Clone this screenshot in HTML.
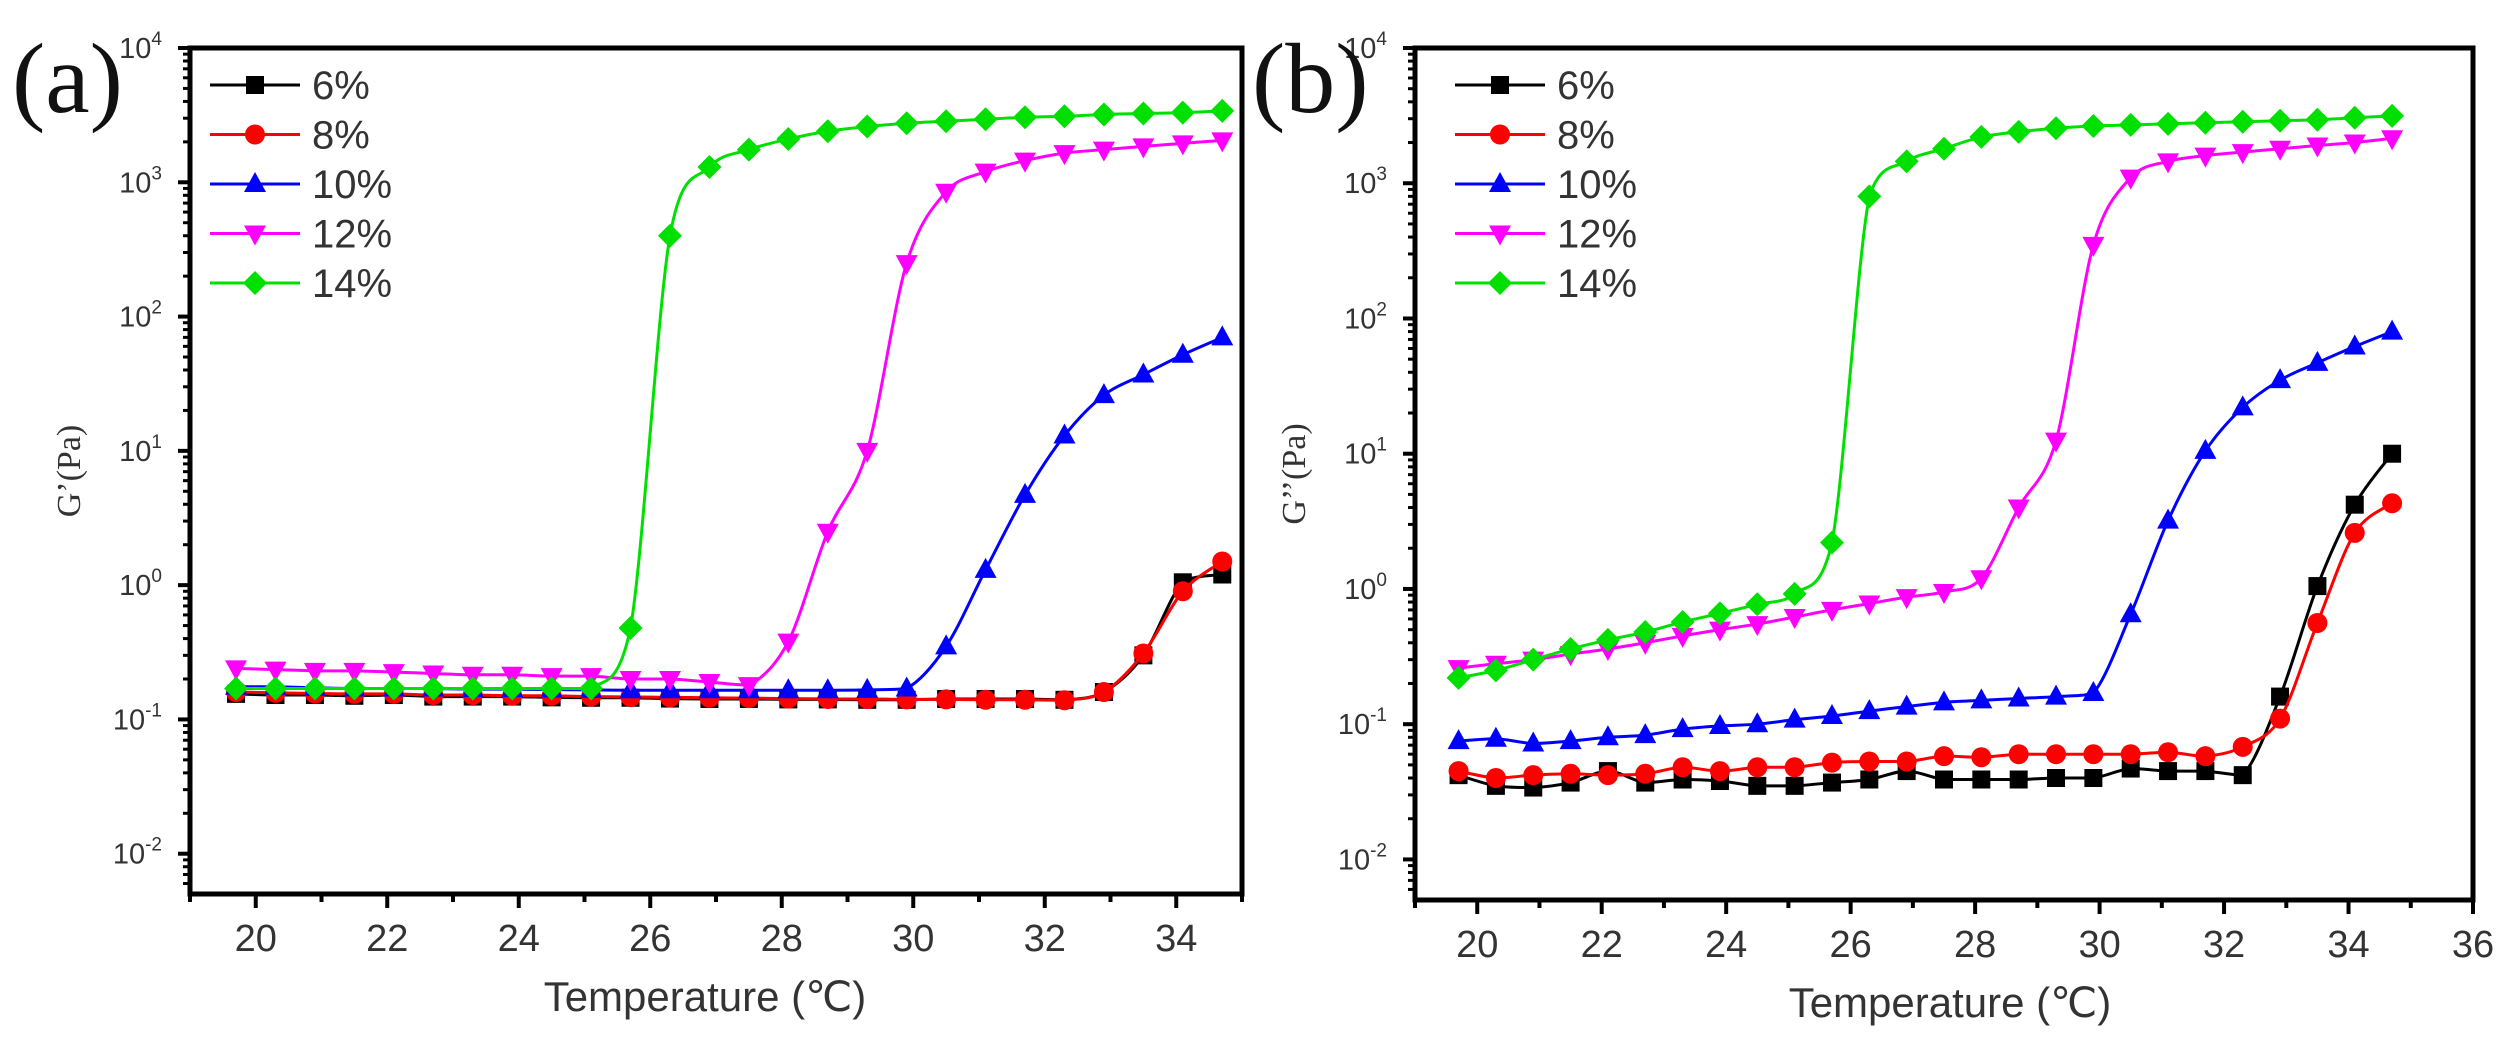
<!DOCTYPE html>
<html><head><meta charset="utf-8">
<style>
html,body{margin:0;padding:0;background:#fff;}
svg{display:block;}
</style></head>
<body>
<svg id="fig" width="2512" height="1053" viewBox="0 0 2512 1053" xmlns="http://www.w3.org/2000/svg"></svg>
<script>
// ---- data ----
const temps = [19.7,20.3,20.9,21.5,22.1,22.7,23.3,23.9,24.5,25.1,25.7,26.3,26.9,27.5,28.1,28.7,29.3,29.9,30.5,31.1,31.7,32.3,32.9,33.5,34.1,34.7];
const seriesNames = ['6%','8%','10%','12%','14%'];
const a6  = [0.155,0.152,0.152,0.15,0.152,0.148,0.148,0.148,0.146,0.145,0.145,0.143,0.142,0.142,0.141,0.141,0.14,0.14,0.142,0.142,0.142,0.14,0.16,0.3,1.05,1.2];
const a8  = [0.16,0.158,0.156,0.155,0.155,0.152,0.152,0.15,0.15,0.148,0.147,0.146,0.145,0.144,0.143,0.142,0.142,0.141,0.141,0.14,0.14,0.139,0.16,0.31,0.9,1.5];
const a10 = [0.175,0.175,0.172,0.17,0.17,0.17,0.168,0.168,0.167,0.166,0.165,0.165,0.165,0.165,0.165,0.165,0.166,0.17,0.35,1.3,4.7,13,26,37,52,70];
const a12 = [0.24,0.235,0.23,0.23,0.225,0.22,0.215,0.215,0.21,0.21,0.2,0.2,0.19,0.18,0.38,2.5,10,250,850,1200,1450,1650,1750,1850,1950,2050];
const a14 = [0.17,0.17,0.17,0.17,0.17,0.17,0.17,0.17,0.17,0.17,0.48,400,1300,1750,2100,2400,2600,2750,2850,2950,3050,3100,3200,3250,3300,3400];
const b6  = [0.042,0.035,0.034,0.037,0.045,0.037,0.039,0.038,0.035,0.035,0.037,0.039,0.045,0.039,0.039,0.039,0.04,0.04,0.047,0.045,0.045,0.042,0.16,1.05,4.2,10];
const b8  = [0.045,0.04,0.042,0.043,0.042,0.043,0.048,0.045,0.048,0.048,0.052,0.053,0.053,0.058,0.057,0.06,0.06,0.06,0.06,0.062,0.058,0.068,0.11,0.56,2.6,4.3];
const b10 = [0.075,0.078,0.072,0.075,0.08,0.083,0.092,0.097,0.1,0.108,0.115,0.125,0.135,0.145,0.15,0.155,0.16,0.17,0.65,3.2,10.5,22,35,47,62,80];
const b12 = [0.26,0.28,0.3,0.33,0.36,0.4,0.45,0.5,0.55,0.62,0.7,0.78,0.87,0.95,1.2,4,12.5,350,1100,1450,1600,1700,1800,1900,2000,2150];
const b14 = [0.22,0.25,0.3,0.36,0.42,0.48,0.57,0.66,0.77,0.92,2.2,800,1450,1800,2200,2400,2550,2650,2700,2750,2800,2850,2900,2950,3050,3150];
const xTicksA = [20,22,24,26,28,30,32,34];
const xTicksB = [20,22,24,26,28,30,32,34,36];
const yExps = [-2,-1,0,1,2,3,4];

const colors = ['#000000','#ff0000','#0000ff','#ff00ff','#00e000'];
const markers = ['square','circle','triUp','triDown','diamond'];
const NS = 'http://www.w3.org/2000/svg';
const svg = document.getElementById('fig');
function mk(tag, attrs, parent){const e=document.createElementNS(NS,tag);for(const k in attrs)e.setAttribute(k,attrs[k]);(parent||svg).appendChild(e);return e;}

function marker(g, type, x, y, c){
  let e; const s=10;
  if(type==='square') e=mk('rect',{x:x-s+1,y:y-s+1,width:2*s-2,height:2*s-2,fill:c},g);
  else if(type==='circle') e=mk('circle',{cx:x,cy:y,r:s,fill:c},g);
  else if(type==='triUp') e=mk('polygon',{points:`${x},${y-s-2} ${x+s+1},${y+s-2} ${x-s-1},${y+s-2}`,fill:c},g);
  else if(type==='triDown') e=mk('polygon',{points:`${x},${y+s+2} ${x+s+1},${y-s+2} ${x-s-1},${y-s+2}`,fill:c},g);
  else e=mk('polygon',{points:`${x},${y-s-2} ${x+s+2},${y} ${x},${y+s+2} ${x-s-2},${y}`,fill:c},g);
  return e;
}
function smoothPath(pts){
  let d=`M${pts[0][0]},${pts[0][1]}`;
  for(let i=0;i<pts.length-1;i++){
    const p0=pts[Math.max(0,i-1)],p1=pts[i],p2=pts[i+1],p3=pts[Math.min(pts.length-1,i+2)];
    const t=0.16;
    let c1y=p1[1]+(p2[1]-p0[1])*t, c2y=p2[1]-(p3[1]-p1[1])*t;
    const lo=Math.min(p1[1],p2[1]), hi=Math.max(p1[1],p2[1]);
    c1y=Math.max(lo,Math.min(hi,c1y)); c2y=Math.max(lo,Math.min(hi,c2y));
    d+=` C${p1[0]+(p2[0]-p0[0])*t},${c1y} ${p2[0]-(p3[0]-p1[0])*t},${c2y} ${p2[0]},${p2[1]}`;
  }
  return d;
}

function panel(cfg){
  const {L,R,T,B,xmin,xmax,name,ylab,series,xTicks,letter,letterX,ylabX,xlabX,legX} = cfg;
  const g = mk('g',{});
  
  
  const ymin=-3, ymax=4; // log10 range: bottom ~ 10^-2.3
  const yBotExp = cfg.yBotExp;
  const xs = v => L + (v-xmin)/(xmax-xmin)*(R-L);
  const ys = v => T + (4-Math.log10(v))/(4-yBotExp)*(B-T);
  // frame
  const fr = mk('rect',{x:L,y:T,width:R-L,height:B-T,fill:'none',stroke:'#000','stroke-width':5},g);
  
  
  // y ticks
  for(const e of yExps){
    const y=ys(Math.pow(10,e));
    mk('line',{x1:L-12,x2:L,y1:y,y2:y,stroke:'#000','stroke-width':4},g);
    const t=mk('text',{x:L-28,y:y+10,'text-anchor':'end','font-family':'Liberation Sans, sans-serif','font-size':29,fill:'#333'},g);
    
    
    t.appendChild(document.createTextNode('10'));
    const s=mk('tspan',{'font-size':19,dy:-13},t); s.textContent=String(e).replace('-','-');
  }
  for(let e=-3;e<4;e++){
    for(let m=2;m<=9;m++){
      const v=m*Math.pow(10,e); const y=ys(v);
      if(y>B||y<T) continue;
      mk('line',{x1:L-7,x2:L,y1:y,y2:y,stroke:'#000','stroke-width':3},g);
    }
  }
  // x ticks
  for(let v=Math.ceil(xmin);v<=xmax;v++){
    const x=xs(v); const major=v%2===0;
    mk('line',{x1:x,x2:x,y1:B,y2:B+(major?14:8),stroke:'#000','stroke-width':4},g);
  }
  for(const v of xTicks){
    const t=mk('text',{x:xs(v),y:B+57,'text-anchor':'middle','font-family':'Liberation Sans, sans-serif','font-size':38,fill:'#333'},g);
    
    
    t.textContent=v;
  }
  // axis titles
  const xt=mk('text',{x:xlabX,y:B+117,'text-anchor':'middle','font-family':'Liberation Sans, sans-serif','font-size':42,fill:'#333'},g);
  
  
  xt.textContent='Temperature (\u2103)';
  const yt=mk('text',{x:ylabX,y:(T+B)/2,'text-anchor':'middle','font-family':'Liberation Serif, serif','font-size':34,fill:'#333',transform:`rotate(-90 ${ylabX} ${(T+B)/2})`},g);
  
  
  yt.textContent=ylab;
  const lt=mk('text',{x:letterX,y:112,'font-family':'Liberation Serif, serif','font-size':100,fill:'#111'},g);
  
  
  lt.textContent=letter;
  // series
  series.forEach((vals,si)=>{
    const sg=mk('g',{},g);
    
    
    const pts=temps.map((t,i)=>[xs(t),ys(vals[i])]);
    mk('path',{d:smoothPath(pts),fill:'none',stroke:colors[si],'stroke-width':3},sg);
    pts.forEach(p=>{
      const m=marker(sg,markers[si],p[0],p[1],colors[si]);
      
      
    });
  });
  // legend
  const lg=mk('g',{},g);
  
  
  seriesNames.forEach((n,i)=>{
    const y=85+i*49.5;
    const eg=mk('g',{},lg);
    
    
    mk('line',{x1:legX,x2:legX+90,y1:y,y2:y,stroke:colors[i],'stroke-width':3},eg);
    marker(eg,markers[i],legX+45,y,colors[i]);
    const t=mk('text',{x:legX+102,y:y+14,'font-family':'Liberation Sans, sans-serif','font-size':40,fill:'#333'},eg);
    t.textContent=n;
  });
}

panel({L:190,R:1242,T:48,B:894,xmin:19,xmax:35,yBotExp:-2.3,name:'panel-a-storage-modulus',ylab:'G\u2019(Pa)',
  series:[a6,a8,a10,a12,a14],xTicks:xTicksA,letter:'(a)',letterX:12,ylabX:80,xlabX:705,legX:210});
panel({L:1415,R:2473,T:48,B:900,xmin:19,xmax:36,yBotExp:-2.3,name:'panel-b-loss-modulus',ylab:'G\u2019\u2019(Pa)',
  series:[b6,b8,b10,b12,b14],xTicks:xTicksB,letter:'(b)',letterX:1252,ylabX:1305,xlabX:1950,legX:1455});
</script>
</body></html>
